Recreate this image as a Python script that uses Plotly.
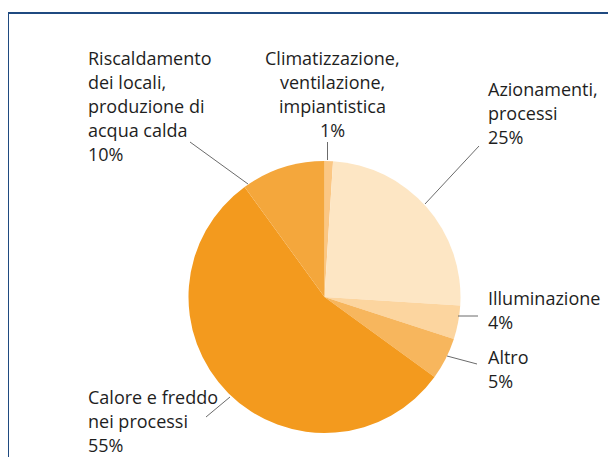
import plotly.graph_objects as go

OFF = 8  # page body margin offset
W, H = 616 - OFF, 457 - OFF

categories = [
    "Climatizzazione, ventilazione, impiantistica",
    "Azionamenti, processi",
    "Illuminazione",
    "Altro",
    "Calore e freddo nei processi",
    "Riscaldamento dei locali, produzione di acqua calda",
]
values = [1, 25, 4, 5, 55, 10]
colors = ["#FBC784", "#FDE6C4", "#FCD59F", "#F7B65D", "#F39A1E", "#F4A73C"]

# label blocks: lines, anchor x (px), first line y (px), alignment
label_lines = [
    ["Climatizzazione,", "ventilazione,", "impiantistica", "1%"],
    ["Azionamenti,", "processi", "25%"],
    ["Illuminazione", "4%"],
    ["Altro", "5%"],
    ["Calore e freddo", "nei processi", "55%"],
    ["Riscaldamento", "dei locali,", "produzione di", "acqua calda", "10%"],
]
label_pos = [(332, 58, "center"), (486, 89, "left"), (486, 298, "left"),
             (486, 357, "left"), (86, 397, "left"), (86, 58, "left")]
leaders = [((327.5, 142), (327.5, 160)), ((479, 146), (425, 204)),
           ((458, 316), (478, 316)), ((447, 356), (477, 364)),
           ((230, 397), (206, 417)), ((190, 142), (248, 184))]

LINE_H = 24

def px(x):
    return (x - OFF) / W

def py(y):
    return 1 - (y - OFF) / H

cx, cy, r = 324.5, 297, 136

fig = go.Figure(go.Pie(
    labels=categories, values=values, sort=False, direction="clockwise",
    rotation=0, marker=dict(colors=colors, line=dict(width=0)),
    textinfo="none", hoverinfo="none", showlegend=False,
    domain=dict(x=[px(cx - r), px(cx + r)], y=[py(cy + r), py(cy - r)]),
))

annotations = []
for lines, (x, y0, al) in zip(label_lines, label_pos):
    for i, t in enumerate(lines):
        annotations.append(dict(
            text=t, x=px(x), y=py(y0 + i * LINE_H), xref="paper", yref="paper",
            xanchor=al, yanchor="middle", showarrow=False,
            font=dict(family="Open Sans", size=18, color="#1e1e1e")))

shapes = []
for (a, b) in leaders:
    shapes.append(dict(type="line", xref="paper", yref="paper",
                       x0=px(a[0]), y0=py(a[1]), x1=px(b[0]), y1=py(b[1]),
                       line=dict(color="#6b6b6b", width=1)))
# frame
shapes.append(dict(type="line", xref="paper", yref="paper", x0=px(7), y0=py(13),
                   x1=1, y1=py(13), line=dict(color="#1F4A80", width=2)))
shapes.append(dict(type="line", xref="paper", yref="paper", x0=px(8), y0=py(12),
                   x1=px(8), y1=0, line=dict(color="#1F4A80", width=2)))

fig.update_layout(width=W, height=H, margin=dict(l=0, r=0, t=0, b=0),
                  paper_bgcolor="white", plot_bgcolor="white",
                  annotations=annotations, shapes=shapes)
fig.write_html(
    "out.html",
    post_script="document.documentElement.style.overflow='hidden';"
                "document.body.style.overflow='hidden';",
)
